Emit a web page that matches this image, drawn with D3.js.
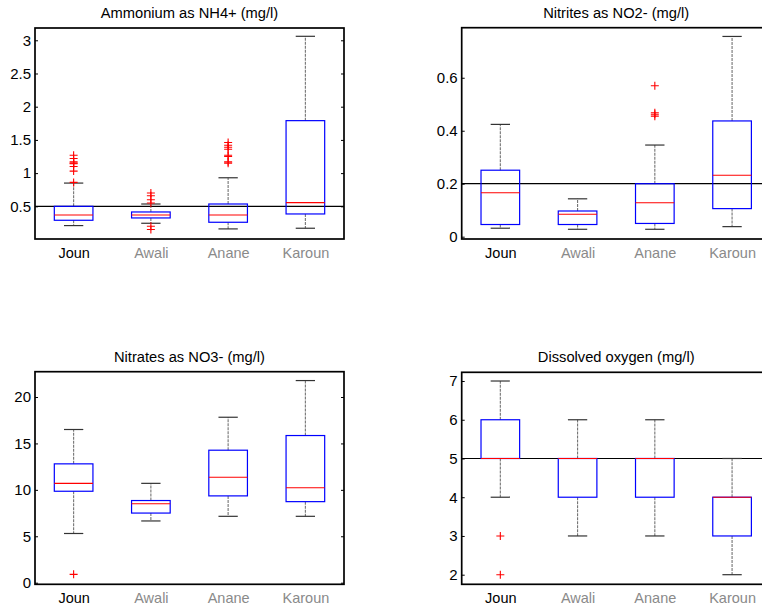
<!DOCTYPE html>
<html>
<head>
<meta charset="utf-8">
<script src="https://cdn.jsdelivr.net/npm/d3@7"></script>
<style>
  html, body { margin: 0; padding: 0; background: #fff; }
  svg { display: block; font-family: "Liberation Sans", Arial, Helvetica, sans-serif; }
</style>
</head>
<body>
<svg id="chart" width="762" height="606"></svg>
<script>
// Sampling sites along the x axis
const categories = ["Joun", "Awali", "Anane", "Karoun"];

// Ammonium as NH4+ (mg/l)
const nh4Low    = [0.21, 0.245, 0.16, 0.17];
const nh4Q1     = [0.29, 0.325, 0.26, 0.385];
const nh4Median = [0.37, 0.37, 0.37, 0.555];
const nh4Q3     = [0.50, 0.415, 0.535, 1.79];
const nh4High   = [0.85, 0.535, 0.93, 3.06];
const nh4Outliers = [
  [0.86, 1.03, 1.10, 1.14, 1.15, 1.17, 1.22, 1.27],
  [0.15, 0.20, 0.55, 0.60, 0.66, 0.70],
  [1.15, 1.17, 1.25, 1.27, 1.36, 1.39, 1.42, 1.46],
  []
];
const nh4Ticks = [0.5, 1, 1.5, 2, 2.5, 3];
const nh4Limit = 0.5;

// Nitrites as NO2- (mg/l)
const no2Low    = [0.032, 0.028, 0.028, 0.038];
const no2Q1     = [0.046, 0.046, 0.05, 0.106];
const no2Median = [0.166, 0.085, 0.128, 0.232];
const no2Q3     = [0.251, 0.097, 0.20, 0.437];
const no2High   = [0.424, 0.143, 0.346, 0.756];
const no2Outliers = [[], [], [0.455, 0.462, 0.468, 0.57], []];
const no2Ticks = [0, 0.2, 0.4, 0.6];
const no2Limit = 0.2;

// Nitrates as NO3- (mg/l)
const no3Low    = [5.3, 6.65, 7.15, 7.15];
const no3Q1     = [9.85, 7.5, 9.35, 8.73];
const no3Median = [10.7, 8.5, 11.35, 10.22];
const no3Q3     = [12.8, 8.85, 14.27, 15.85];
const no3High   = [16.5, 10.7, 17.82, 21.77];
const no3Outliers = [[0.9], [], [], []];
const no3Ticks = [0, 5, 10, 15, 20];

// Dissolved oxygen (mg/l)
const doLow    = [4, 3, 3, 2];
const doQ1     = [5, 4, 4, 3];
const doMedian = [5, 5, 5, 4];
const doQ3     = [6, 5, 5, 4];
const doHigh   = [7, 6, 6, 5];
const doOutliers = [[3, 2], [], [], []];
const doTicks = [2, 3, 4, 5, 6, 7];
const doLimit = 5;

const panelTitles = [
  "Ammonium as NH4+ (mg/l)",
  "Nitrites as NO2- (mg/l)",
  "Nitrates as NO3- (mg/l)",
  "Dissolved oxygen (mg/l)"
];

const svg = d3.select("#chart");

function drawPanel(p) {
  const g = svg.append("g");
  const x = d3.scaleLinear().domain([0.5, 4.5]).range([p.left, p.right]);
  const y = d3.scaleLinear().domain(p.domain).range([p.bottom, p.top]);
  const boxHalf = 0.25, capHalf = 0.125;

  const rows = categories.map((c, i) => ({
    i, pos: i + 1,
    low: p.low[i], q1: p.q1[i], med: p.median[i], q3: p.q3[i], high: p.high[i],
    out: p.outliers[i]
  }));

  // horizontal guide line
  if (p.limit !== undefined) {
    g.append("line")
      .attr("x1", p.left).attr("x2", p.right)
      .attr("y1", y(p.limit)).attr("y2", y(p.limit))
      .attr("stroke", "#000").attr("stroke-width", 1.2);
  }

  const box = g.selectAll("g.box").data(rows).join("g").attr("class", "box");

  // whiskers (fine dashes)
  [["q3", "high"], ["q1", "low"]].forEach(([a, b]) => {
    box.append("line")
      .attr("x1", d => x(d.pos)).attr("x2", d => x(d.pos))
      .attr("y1", d => y(d[a])).attr("y2", d => y(d[b]))
      .attr("stroke", "#000").attr("stroke-opacity", 0.55)
      .attr("stroke-width", 1.1).attr("stroke-dasharray", "3,1");
  });

  // whisker caps
  ["high", "low"].forEach(k => {
    box.append("line")
      .attr("x1", d => x(d.pos - capHalf)).attr("x2", d => x(d.pos + capHalf))
      .attr("y1", d => y(d[k])).attr("y2", d => y(d[k]))
      .attr("stroke", "#333").attr("stroke-width", 1.2);
  });

  // box body
  box.append("rect")
    .attr("x", d => x(d.pos - boxHalf))
    .attr("width", d => x(d.pos + boxHalf) - x(d.pos - boxHalf))
    .attr("y", d => y(d.q3))
    .attr("height", d => Math.max(0, y(d.q1) - y(d.q3)))
    .attr("fill", "none").attr("stroke", "#0000ff").attr("stroke-width", 1.2);

  // median
  box.append("line")
    .attr("x1", d => x(d.pos - boxHalf)).attr("x2", d => x(d.pos + boxHalf))
    .attr("y1", d => y(d.med)).attr("y2", d => y(d.med))
    .attr("stroke", "#ff0000").attr("stroke-width", 1.1);

  // outliers as "+" markers
  const pts = rows.flatMap(d => d.out.map(v => ({ pos: d.pos, v })));
  const s = 4;
  g.selectAll("path.outlier").data(pts).join("path")
    .attr("class", "outlier")
    .attr("d", d => {
      const cx = x(d.pos), cy = y(d.v);
      return `M${cx - s},${cy}H${cx + s}M${cx},${cy - s}V${cy + s}`;
    })
    .attr("stroke", "#ff0000").attr("stroke-width", 1.1).attr("fill", "none");

  // left axis with inward ticks
  const fmt = v => String(v);
  const left = g.append("g").attr("transform", `translate(${p.left},0)`)
    .call(d3.axisLeft(y).tickValues(p.ticks).tickFormat(fmt)
      .tickSizeInner(-3).tickSizeOuter(0).tickPadding(4));
  left.select(".domain").remove();
  left.selectAll("text").attr("font-size", 15).attr("fill", "#000")
    .attr("font-family", "Liberation Sans, Arial, sans-serif");
  left.selectAll("line").attr("stroke", "#000");

  // right axis ticks only
  const right = g.append("g").attr("transform", `translate(${p.right},0)`)
    .call(d3.axisRight(y).tickValues(p.ticks).tickFormat("")
      .tickSizeInner(-3).tickSizeOuter(0));
  right.select(".domain").remove();
  right.selectAll("line").attr("stroke", "#000");

  // category labels
  const bottom = g.append("g").attr("transform", `translate(0,${p.bottom})`)
    .call(d3.axisBottom(x).tickValues([1, 2, 3, 4])
      .tickFormat(v => categories[v - 1]).tickSize(0).tickPadding(8.6));
  bottom.select(".domain").remove();
  bottom.selectAll("text").attr("font-size", 14.5)
    .attr("font-family", "Liberation Sans, Arial, sans-serif")
    .attr("fill", (d, i) => i === 0 ? "#000" : "#8a8a8a");

  // frame
  g.append("rect")
    .attr("x", p.left).attr("y", p.top)
    .attr("width", p.right - p.left).attr("height", p.bottom - p.top)
    .attr("fill", "none").attr("stroke", "#000").attr("stroke-width", 1.7);

  // title
  g.append("text")
    .attr("x", (p.left + p.right) / 2).attr("y", p.top - 10)
    .attr("text-anchor", "middle").attr("font-size", 14.7).attr("fill", "#000")
    .text(p.title);
}

drawPanel({
  title: panelTitles[0], left: 35, right: 344, top: 28, bottom: 239,
  domain: [0.008, 3.185], ticks: nh4Ticks, limit: nh4Limit,
  low: nh4Low, q1: nh4Q1, median: nh4Median, q3: nh4Q3, high: nh4High, outliers: nh4Outliers
});
drawPanel({
  title: panelTitles[1], left: 461.7, right: 770.7, top: 27.7, bottom: 239,
  domain: [-0.0087, 0.789], ticks: no2Ticks, limit: no2Limit,
  low: no2Low, q1: no2Q1, median: no2Median, q3: no2Q3, high: no2High, outliers: no2Outliers
});
drawPanel({
  title: panelTitles[2], left: 35, right: 344, top: 371.7, bottom: 584.3,
  domain: [-0.172, 22.725], ticks: no3Ticks,
  low: no3Low, q1: no3Q1, median: no3Median, q3: no3Q3, high: no3High, outliers: no3Outliers
});
drawPanel({
  title: panelTitles[3], left: 461.7, right: 770.7, top: 372.3, bottom: 584.3,
  domain: [1.752, 7.225], ticks: doTicks, limit: doLimit,
  low: doLow, q1: doQ1, median: doMedian, q3: doQ3, high: doHigh, outliers: doOutliers
});
</script>
</body>
</html>
